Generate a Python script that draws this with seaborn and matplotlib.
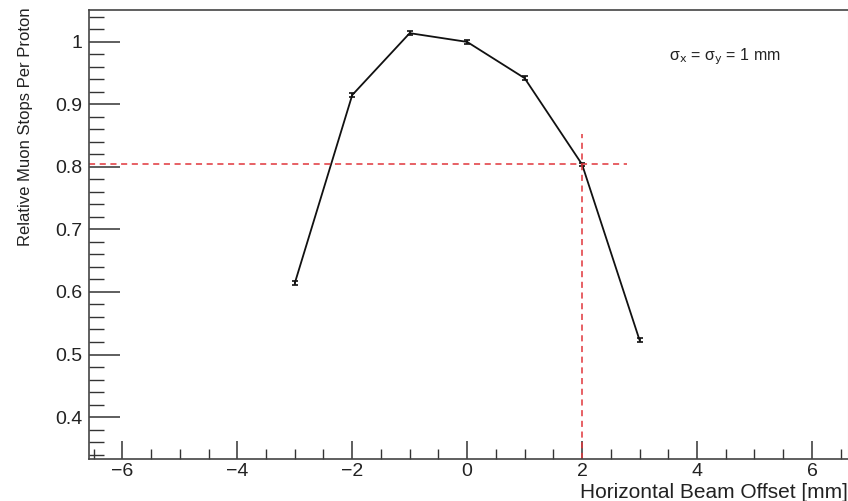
import matplotlib
matplotlib.use("Agg")
import matplotlib.pyplot as plt
import seaborn as sns
import pandas as pd
from matplotlib.ticker import MultipleLocator

offset_mm = [-3, -2, -1, 0, 1, 2, 3]
rel_stops = [0.614, 0.915, 1.014, 1.000, 0.942, 0.804, 0.523]
rel_err = [0.003, 0.003, 0.003, 0.003, 0.003, 0.003, 0.003]

h_ref_y = 0.805
h_ref_xmax = 2.78
v_ref_x = 2.0
v_ref_ymax = 0.853

sns.set_theme(style="white")
plt.rcParams['font.family'] = ['Liberation Sans', 'DejaVu Sans']

df = pd.DataFrame({"x": offset_mm, "y": rel_stops, "e": rel_err})

fig = plt.figure(figsize=(8.48, 5.01), dpi=100)
ax = fig.add_axes([0.105, 0.084, 0.8945, 0.896])

sns.lineplot(data=df, x="x", y="y", ax=ax, color="#111111", linewidth=1.3)
ax.errorbar(df["x"], df["y"], yerr=df["e"], fmt="none", ecolor="#111111",
            elinewidth=1.2, capsize=2.5, capthick=1.2)

xmin, xmax = -6.58, 6.62
ymin, ymax = 0.333, 1.051
ax.set_xlim(xmin, xmax)
ax.set_ylim(ymin, ymax)

ax.plot([xmin, h_ref_xmax], [h_ref_y, h_ref_y], color="#e0353b", ls=(0, (4, 3)), lw=1.1)
ax.plot([v_ref_x, v_ref_x], [ymin, v_ref_ymax], color="#e0353b", ls=(0, (4, 3)), lw=1.1)

ax.xaxis.set_major_locator(MultipleLocator(2))
ax.xaxis.set_minor_locator(MultipleLocator(0.5))
ax.yaxis.set_major_locator(MultipleLocator(0.1))
ax.yaxis.set_minor_locator(MultipleLocator(0.02))
ax.set_yticks([0.4, 0.5, 0.6, 0.7, 0.8, 0.9, 1.0])
ax.set_yticklabels(["0.4", "0.5", "0.6", "0.7", "0.8", "0.9", "1"])
ax.set_xticks([-6, -4, -2, 0, 2, 4, 6])
ax.set_xticklabels(["\u22126", "\u22124", "\u22122", "0", "2", "4", "6"])

ax.tick_params(axis="both", which="both", direction="in", color="#333333",
               labelsize=14, labelcolor="#222222")
ax.tick_params(axis="y", which="major", length=22, width=1.1, left=True, right=False, pad=5)
ax.tick_params(axis="y", which="minor", length=11, width=1.0, left=True, right=False)
ax.tick_params(axis="x", which="major", length=13, width=1.1, bottom=True, pad=3)
ax.tick_params(axis="x", which="minor", length=7, width=1.0, bottom=True)

for s in ax.spines.values():
    s.set_color("#444444")
    s.set_linewidth(1.2)
ax.spines["right"].set_color("#cccccc")
ax.spines["right"].set_linewidth(0.8)

ax.set_xlabel("Horizontal Beam Offset [mm]", fontsize=15, color="#222222")
ax.xaxis.set_label_coords(1.0, -0.053)
ax.xaxis.label.set_horizontalalignment("right")
ax.set_ylabel("Relative Muon Stops Per Proton", fontsize=12, color="#222222")
ax.yaxis.set_label_coords(-0.074, 1.007)
ax.yaxis.label.set_horizontalalignment("right")

ax.text(0.765, 0.895, "\u03c3$_{\\rm x}$ = \u03c3$_{\\rm y}$ = 1 mm", transform=ax.transAxes,
        fontsize=11.5, color="#222222", ha="left", va="center")

fig.savefig("out.png", dpi=100)
